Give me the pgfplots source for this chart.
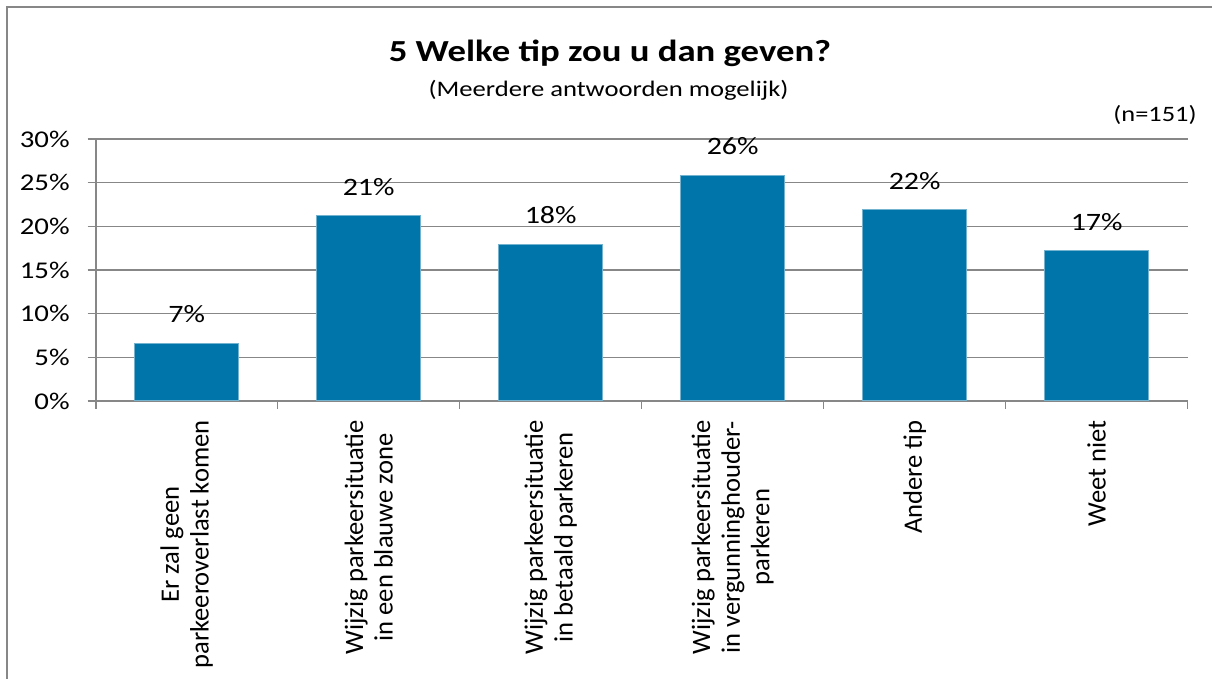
\documentclass[border=0pt]{standalone}
\usepackage{fontspec}
\setmainfont{Carlito}[FakeStretch=1.2]
\newfontfamily\plainfont{Carlito}
\usepackage{pgfplots}
\pgfplotsset{compat=1.18}
\definecolor{barblue}{HTML}{0075AA}
\definecolor{gridgray}{HTML}{878787}
\begin{document}
\begin{tikzpicture}[x=1pt,y=1pt]
\begin{axis}[
  at={(47.85pt,139pt)}, anchor=south west,
  scale only axis, width=546pt, height=131pt,
  xmin=-0.5, xmax=5.5, ymin=0, ymax=30,
  axis x line*=bottom, axis y line*=left,
  axis line style={gridgray, line width=0.8pt},
  ymajorgrids, grid style={gridgray, line width=0.8pt},
  ytick={0,5,10,15,20,25,30},
  yticklabel={\pgfmathprintnumber{\tick}\%},
  /pgf/number format/assume math mode=true,
  tick align=outside, major tick length=4pt,
  tick style={gridgray, line width=0.8pt},
  yticklabel style={font=\fontsize{12}{14}\selectfont, inner sep=0pt, black},
  yticklabel shift=8.85pt,
  xtick={-0.5,0.5,1.5,2.5,3.5,4.5,5.5}, xticklabels={},
  extra x ticks={0,1,2,3,4,5},
  extra x tick labels={{Er zal geen\\parkeeroverlast komen},{Wijzig parkeersituatie\\in een blauwe zone},{Wijzig parkeersituatie\\in betaald parkeren},{Wijzig parkeersituatie\\in vergunninghouder-\\parkeren},{Andere tip},{Weet niet}},
  extra x tick style={major tick length=0pt, grid=none},
  xticklabel style={font=\plainfont\fontsize{13.3}{14.8}\selectfont, rotate=90, anchor=east, align=center, inner sep=0pt, black},
  xticklabel shift=9.5pt,
  ybar, bar width=52pt,
  nodes near coords={\pgfmathprintnumber[fixed,precision=0]{\pgfplotspointmeta}\%},
  nodes near coords style={font=\fontsize{12.5}{15}\selectfont, anchor=south, inner sep=0pt, yshift=10pt, black},
]
\addplot[fill=barblue, draw=barblue!55!white, line width=0.5pt] coordinates {(0,6.6)(1,21.2)(2,17.9)(3,25.8)(4,21.9)(5,17.2)};
\end{axis}
\node[font=\bfseries\fontsize{15.3}{18}\selectfont, anchor=base] at (305,308.7) {5 Welke tip zou u dan geven?};
\node[font=\fontsize{11.1}{13}\selectfont, anchor=base] at (304.25,291.2) {(Meerdere antwoorden mogelijk)};
\node[font=\fontsize{11}{13}\selectfont, anchor=base east, inner sep=0pt] at (598.5,278.7) {(n=151)};
\draw[gridgray, line width=1pt] (3.5,-20) -- (3.5,336) -- (640,336);
\pgfresetboundingbox
\useasboundingbox (0,0) rectangle (606,339.5);
\end{tikzpicture}
\end{document}
